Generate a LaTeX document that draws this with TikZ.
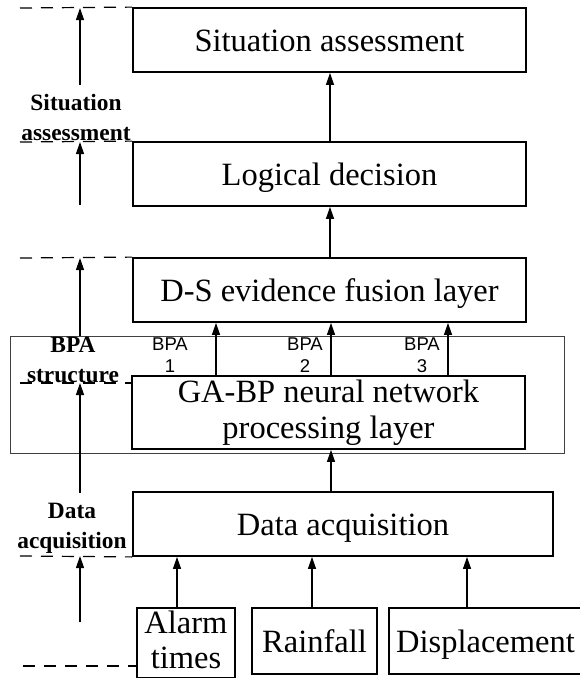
\documentclass[tikz,border=0pt]{standalone}
\usepackage{fontspec}
\setmainfont{Liberation Serif}
\newfontfamily\arialf{Liberation Sans}
\usetikzlibrary{arrows.meta}
\begin{document}
\begin{tikzpicture}[x=1pt,y=-1pt,
 box/.style={draw,line width=1.8pt,inner sep=0pt,align=center,text height=22pt,text depth=0pt,font=\fontsize{32.5}{36}\selectfont},
 arr/.style={line width=1.2pt,-{Triangle[length=12pt,width=8pt]}},
 dsh/.style={line width=1.2pt,dash pattern=on 12pt off 9pt},
 side/.style={font=\bfseries\fontsize{23.4}{30}\selectfont,align=center,inner sep=0pt},
 bpa/.style={font=\arialf\fontsize{18.5}{22}\selectfont,align=center,inner sep=0pt}]
\useasboundingbox (0,0) rectangle (579,678);
% outer frame
\node[draw=black!75,line width=0.8pt,minimum width=554pt,minimum height=117pt,inner sep=0pt] (frame) at (287,394.5) {};
% boxes
\node[box,minimum width=393pt,minimum height=64pt] (sit) at (329.5,40) {Situation assessment};
\node[box,minimum width=393pt,minimum height=64pt] (log) at (329.5,174) {Logical decision};
\node[box,minimum width=393pt,minimum height=64pt] (ds) at (329.5,290) {D-S evidence fusion layer};
\node[box,minimum width=393pt,minimum height=73pt,text height=58pt,text depth=7pt] (gabp) at (328.5,412.5) {GA-BP neural network\\processing layer};
\node[box,minimum width=420pt,minimum height=64pt] (data) at (343,524) {Data acquisition};
\node[box,minimum width=98pt,minimum height=70pt,text height=57pt,text depth=7pt,font=\fontsize{32.5}{35}\selectfont] (alarm) at (186,643) {Alarm\\times};
\node[box,minimum width=125pt,minimum height=66pt] (rain) at (314.5,641) {Rainfall};
\node[box,minimum width=193pt,minimum height=66pt] (disp) at (485.5,641) {Displacement};
% BPA labels
\node[bpa] (bpa1) at (170,355) {BPA\\1};
\node[bpa] (bpa2) at (305,355) {BPA\\2};
\node[bpa] (bpa3) at (422,355) {BPA\\3};
% side labels
\node[side] (lsa) at (76,117) {Situation\\assessment};
\node[side] (lbpa) at (73,360) {BPA\\structure};
\node[side] (lda) at (72,528) {Data\\acquisition};
% coordinates
\coordinate (cm) at (330,0);
\coordinate (cd) at (331,0);
\coordinate (b1) at (216,0);
\coordinate (b2) at (331,0);
\coordinate (b3) at (448,0);
\coordinate (i1) at (177,0);
\coordinate (i2) at (312,0);
\coordinate (i3) at (467,0);
\coordinate (lx) at (80,0);
% main arrows
\draw[arr] (log.north -| cm) -- (sit.south -| cm);
\draw[arr] (ds.north -| cm) -- (log.south -| cm);
\draw[arr] (gabp.north -| b1) -- (ds.south -| b1);
\draw[arr] (gabp.north -| b2) -- (ds.south -| b2);
\draw[arr] (gabp.north -| b3) -- (ds.south -| b3);
\draw[arr] (data.north -| cd) -- (gabp.south -| cd);
\draw[arr] (alarm.north -| i1) -- (data.south -| i1);
\draw[arr] (rain.north -| i2) -- (data.south -| i2);
\draw[arr] (disp.north -| i3) -- (data.south -| i3);
% left dashed lines
\coordinate (d1) at (20,8);
\coordinate (d2) at (20,142);
\coordinate (d3) at (20,258);
\coordinate (d4) at (20,383);
\coordinate (d5) at (20,556);
\coordinate (d6) at (23,666);
\draw[dsh] (d1) -- (sit.north west);
\draw[dsh] (d2) -- (log.north west);
\draw[dsh] (d3) -- (ds.north west);
\draw[dsh] (d4) -- (d4 -| gabp.west);
\draw[dsh] (d5) -- (data.south west);
\draw[dsh] (d6) -- (d6 -| alarm.west);
% left arrows
\coordinate (t1) at (80,85);
\coordinate (t2) at (80,205);
\coordinate (t4) at (80,493);
\coordinate (t5) at (80,622);
\draw[arr] (t1) -- (d1 -| lx);
\draw[arr] (t2) -- (d2 -| lx);
\draw[arr] (frame.north -| lx) -- (d3 -| lx);
\draw[arr] (t4) -- (d4 -| lx);
\draw[arr] (t5) -- (d5 -| lx);
\end{tikzpicture}
\end{document}
